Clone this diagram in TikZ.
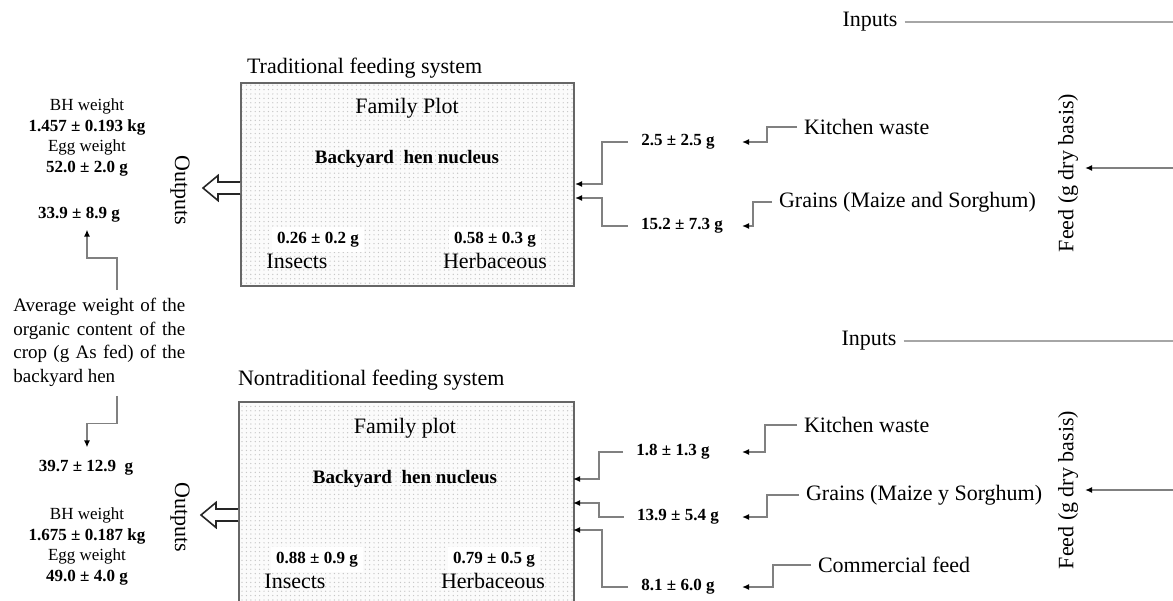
\documentclass[tikz,border=0pt]{standalone}
\usepackage{fontspec}
\setmainfont{Liberation Serif}
\usetikzlibrary{arrows.meta,patterns.meta}

\begin{document}
\begin{tikzpicture}[x=0.5pt,y=-0.5pt,
  plotbox/.style={draw=gray!80!black, line width=0.8pt, preaction={fill=gray!3},
    pattern={Dots[distance=2.2pt,radius=0.35pt]}, pattern color=gray!45},
  big/.style={font=\fontsize{11}{13}\selectfont},
  small/.style={font=\fontsize{8.5}{10.25}\selectfont},
  val/.style={font=\bfseries\fontsize{8.5}{10}\selectfont, inner xsep=6.5pt},
  boxval/.style={font=\bfseries\fontsize{8.5}{10}\selectfont, fill=white, inner sep=2.5pt, anchor=base},
  feed/.style={draw=gray, line width=0.7pt, -{Latex[black,length=3.5pt,width=3pt]}},
  inline/.style={draw=gray!70, line width=0.6pt},
  outarrow/.pic={\draw[line width=0.8pt, draw=gray!30!black, fill=white]
    (0,-6) -- (-22,-6) -- (-22,-12.5) -- (-37,0) -- (-22,12.5) -- (-22,6) -- (0,6);}]
  \clip (0,0) rectangle (1173,600);

  % traditional system
  \node[big, anchor=base west] (ttitle) at (240,73) {Traditional feeding system};
  \node[plotbox, anchor=north west, minimum width=166.5pt, minimum height=101.5pt] (box1) at (240,82) {};
  \node[big, anchor=base] (tfam) at (407,113) {Family Plot};
  \node[font=\bfseries\fontsize{9.5}{11}\selectfont, anchor=base] (tnuc) at (407,163) {Backyard\ \ hen nucleus};
  \node[boxval] (tvins) at (318,243) {0.26 ± 0.2 g};
  \node[boxval] (tvherb) at (495,243) {0.58 ± 0.3 g};
  \node[big, anchor=base] (tins) at (297,268) {Insects};
  \node[big, anchor=base] (therb) at (495,268) {Herbaceous};

  \node[small, align=center] (tout) at (87,137.5) {BH weight\\\textbf{1.457 ± 0.193 kg}\\Egg weight\\\textbf{52.0 ± 2.0 g}};
  \node[val] (tcrop) at (79,215) {33.9 ± 8.9 g};
  \node[big, rotate=-90] (toutl) at (180,190) {Outputs};
  \pic at (240,188) {outarrow};

  \node[val] (tv1) at (678,142) {2.5 ± 2.5 g};
  \node[val] (tv2) at (682,226) {15.2 ± 7.3 g};
  \node[big, anchor=west] (tkw) at (797,127) {Kitchen waste};
  \node[big, anchor=west] (tgr) at (772,202) {Grains (Maize and Sorghum)};
  \coordinate (tipcol) at (742,0);
  \coordinate (tin1) at (575,184);
  \coordinate (tin2) at (575,198);
  \draw[feed] (tv1.west) -- ++(-26,0) |- (tin1);
  \draw[feed] (tv2.west) -- ++(-26,0) |- (tin2);
  \draw[feed] (tkw.west) -- ++(-30,0) |- (tv1 -| tipcol);
  \draw[feed] (tgr.west) -- ++(-19,0) |- (tv2 -| tipcol);

  \node[big] (tinp) at (870,22) {Inputs};
  \coordinate (tinE) at (1180,21);
  \draw[inline] (tinp.east) -- (tinp.east -| tinE);
  \node[big, rotate=90] (tfeed) at (1068,173) {Feed (g dry basis)};
  \coordinate (tfE) at (1180,168);
  \draw[feed] (tfE) -- (tfE -| tfeed.south);

  % crop content
  \node[font=\fontsize{9.5}{11.75}\selectfont, text width=86pt, align=justify, anchor=north west, inner sep=0pt] (avg) at (13,298)
    {Average weight of the organic content of the crop (g As fed) of the backyard hen};
  \draw[feed] ([shift={(104,-8)}]avg.north west) -- ++(0,-32) -| ([xshift=4pt]tcrop.south);
  \node[val] (bcrop) at (86,468) {39.7 ± 12.9\ \ g};
  \draw[feed] ([shift={(104,9)}]avg.south west) -- ++(0,28) -| ([xshift=0.5pt,yshift=3pt]bcrop.north);

  % nontraditional system
  \node[big, anchor=base west] (btitle) at (231,385) {Nontraditional feeding system};
  \node[plotbox, anchor=north west, minimum width=167.5pt, minimum height=110pt] (box2) at (238,401) {};
  \node[big, anchor=base] (bfam) at (405,433) {Family plot};
  \node[font=\bfseries\fontsize{9.5}{11}\selectfont, anchor=base] (bnuc) at (405,483) {Backyard\ \ hen nucleus};
  \node[boxval] (bvins) at (317,563) {0.88 ± 0.9 g};
  \node[boxval] (bvherb) at (494,563) {0.79 ± 0.5 g};
  \node[big, anchor=base] (bins) at (295,588) {Insects};
  \node[big, anchor=base] (bherb) at (493,588) {Herbaceous};

  \node[small, align=center] (bout) at (87,546.5) {BH weight\\\textbf{1.675 ± 0.187 kg}\\Egg weight\\\textbf{49.0 ± 4.0 g}};
  \node[big, rotate=-90] (boutl) at (180,517) {Outputs};
  \pic at (238,515) {outarrow};

  \node[val] (bv1) at (673,452) {1.8 ± 1.3 g};
  \node[val] (bv2) at (678,517) {13.9 ± 5.4 g};
  \node[val] (bv3) at (678,587) {8.1 ± 6.0 g};
  \node[big, anchor=west] (bkw) at (797,425) {Kitchen waste};
  \node[big, anchor=west] (bgr) at (799,495) {Grains (Maize y Sorghum)};
  \node[big, anchor=west] (bcf) at (811,565) {Commercial feed};
  \coordinate (bin1) at (573,479);
  \coordinate (bin2) at (573,503);
  \coordinate (bin3) at (573,530);
  \draw[feed] (bv1.west) -- ++(-24,0) |- (bin1);
  \draw[feed] (bv2.west) -- ++(-25,0) |- (bin2);
  \draw[feed] (bv3.west) -- ++(-26,0) |- (bin3);
  \draw[feed] (bkw.west) -- ++(-32,0) |- (bv1 -| tipcol);
  \draw[feed] (bgr.west) -- ++(-32,0) |- (bv2 -| tipcol);
  \draw[feed] (bcf.west) -- ++(-38,0) |- (bv3 -| tipcol);

  \node[big] (binp) at (869,341) {Inputs};
  \coordinate (binE) at (1180,340);
  \draw[inline] (binp.east) -- (binp.east -| binE);
  \node[big, rotate=90] (bfeed) at (1068,490) {Feed (g dry basis)};
  \coordinate (bfE) at (1180,490);
  \draw[feed] (bfE) -- (bfE -| bfeed.south);
\end{tikzpicture}
\end{document}
